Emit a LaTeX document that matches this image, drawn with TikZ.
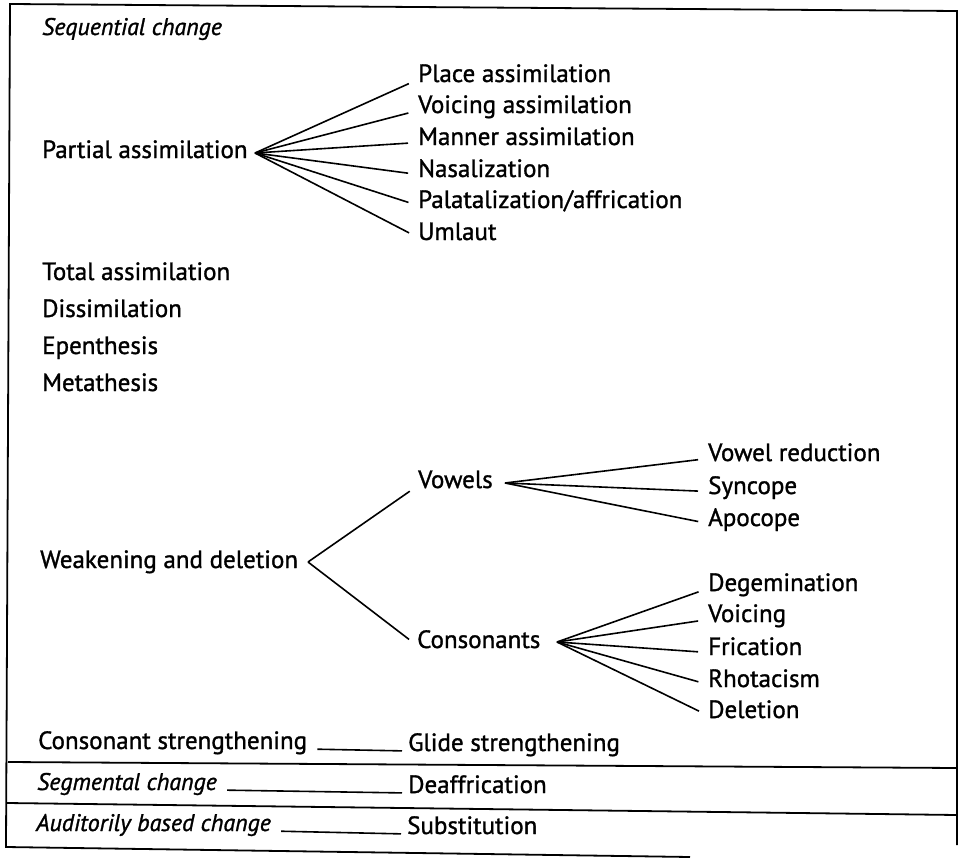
\documentclass[tikz,border=0pt]{standalone}
\usepackage{fontspec}
\setmainfont{PT Sans}[FakeBold=1.2]

\tikzset{
	txt/.style={anchor=base west, inner sep=0pt},
	head/.style={txt, font=\fontsize{24}{28}\selectfont\itshape},
	branch/.style={line width=1.6pt, shorten >=10pt},
	link/.style={line width=1.6pt, shorten <=10pt, shorten >=6pt},
	rule/.style={line width=1.8pt}
}

\begin{document}
\begin{tikzpicture}[x=1pt, y=-1pt, font=\fontsize{25}{30}\selectfont]
	%\draw[help lines, step=50] (0,0) grid (959,862);
	\useasboundingbox (0,0) rectangle (959,862);

	\draw [rule] (690, 857) -- (6, 847) -- (10, 4) -- (957, 11) -- (957, 845);	% Rahmen
	\draw [rule] (8, 762) -- (957, 768);					% Trennlinie
	\draw [rule] (7, 803) -- (957, 815);

	\node [head] (seq) at (42, 35) {Sequential change};

	% Partial assimilation
	\node [txt] (pa) at (42, 158) {Partial assimilation};
	\coordinate (pa-fork) at (255, 153);
	\node [txt] (place) at (418, 82) {Place assimilation};
	\node [txt] (voice) at (418, 113) {Voicing assimilation};
	\node [txt] (manner) at (418, 145) {Manner assimilation};
	\node [txt] (nasal) at (418, 177) {Nasalization};
	\node [txt] (palat) at (418, 208) {Palatalization/affrication};
	\node [txt] (umlaut) at (418, 240) {Umlaut};
	\draw [branch] (pa-fork) -- (place.mid west);
	\draw [branch] (pa-fork) -- (voice.mid west);
	\draw [branch] (pa-fork) -- (manner.mid west);
	\draw [branch] (pa-fork) -- (nasal.mid west);
	\draw [branch] (pa-fork) -- (palat.mid west);
	\draw [branch] (pa-fork) -- (umlaut.mid west);

	\node [txt] (total) at (42, 280) {Total assimilation};
	\node [txt] (dissim) at (42, 317) {Dissimilation};
	\node [txt] (epen) at (42, 354) {Epenthesis};
	\node [txt] (meta) at (42, 391) {Metathesis};

	% Weakening and deletion
	\node [txt] (weak) at (40, 568) {Weakening and deletion};
	\coordinate (weak-fork) at (308, 562);
	\node [txt] (vow) at (418, 488) {Vowels};
	\node [txt] (cons) at (417, 648) {Consonants};
	\draw [branch] (weak-fork) -- (vow.mid west);
	\draw [branch] (weak-fork) -- (cons.mid west);

	\coordinate (vow-fork) at (505, 483);
	\node [txt] (vred) at (708, 461) {Vowel reduction};
	\node [txt] (sync) at (708, 494) {Syncope};
	\node [txt] (apoc) at (708, 526) {Apocope};
	\draw [branch] (vow-fork) -- (vred.mid west);
	\draw [branch] (vow-fork) -- (sync.mid west);
	\draw [branch] (vow-fork) -- (apoc.mid west);

	\coordinate (cons-fork) at (557, 642);
	\node [txt] (degem) at (708, 591) {Degemination};
	\node [txt] (cvoice) at (708, 622) {Voicing};
	\node [txt] (fric) at (708, 655) {Frication};
	\node [txt] (rhot) at (708, 687) {Rhotacism};
	\node [txt] (del) at (708, 718) {Deletion};
	\draw [branch] (cons-fork) -- (degem.mid west);
	\draw [branch] (cons-fork) -- (cvoice.mid west);
	\draw [branch] (cons-fork) -- (fric.mid west);
	\draw [branch] (cons-fork) -- (rhot.mid west);
	\draw [branch] (cons-fork) -- (del.mid west);

	% untere Zeilen
	\node [txt] (cstr) at (38, 749) {Consonant strengthening};
	\node [txt] (glide) at (408, 751) {Glide strengthening};
	\draw [link] (cstr.base east) -- (glide.base west);

	\node [head] (seg) at (37, 790) {Segmental change};
	\node [txt] (deaff) at (408, 793) {Deaffrication};
	\draw [link] (seg.base east) -- (deaff.base west);

	\node [head] (aud) at (36, 831) {Auditorily based change};
	\node [txt] (subst) at (407, 834) {Substitution};
	\draw [link] (aud.base east) -- (subst.base west);
\end{tikzpicture}
\end{document}
